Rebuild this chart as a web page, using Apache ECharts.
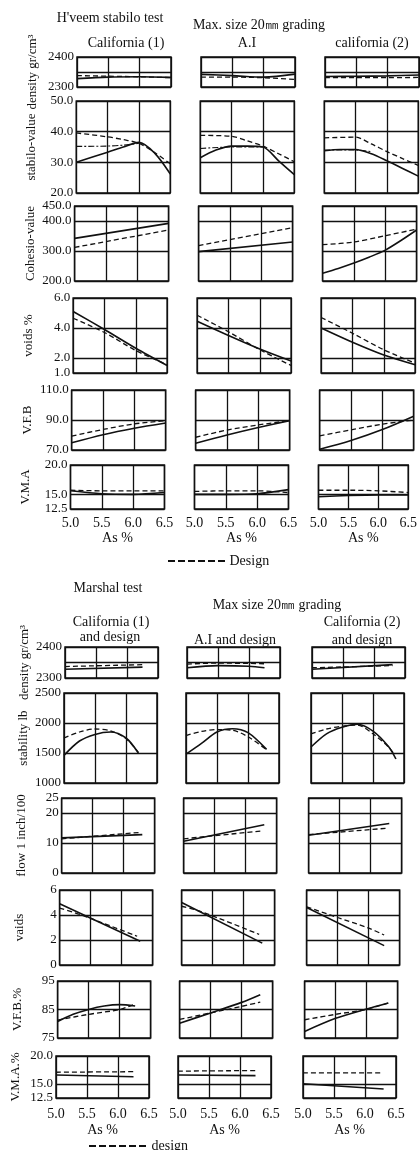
<!DOCTYPE html>
<html>
<head>
<meta charset="utf-8">
<script src="https://cdn.jsdelivr.net/npm/echarts@6/dist/echarts.min.js"></script>
<style>
html, body { margin: 0; background: #fff; }
#main { width: 420px; height: 1150px; }
</style>
</head>
<body>
<div id="main"></div>
<script>
// x axis: asphalt content, As %
var asTicks = [5.0, 5.5, 6.0, 6.5];

// y tick values (grid lines) and printed labels
var densityTicks = [2300, 2350, 2400];
var densityLabels = [2300, 2400];
var stabiloTicks = [20, 30, 40, 50];
var cohesioTicks = [200, 300, 400, 450];
var voidsTicks = [1, 2, 4, 6];
var hvVfbTicks = [70, 90, 110];
var vmaTicks = [12.5, 15, 20];
var stabilityTicks = [1000, 1500, 2000, 2500];
var flowTicks = [0, 10, 20, 25];
var vaidsTicks = [0, 2, 4, 6];
var msVfbTicks = [75, 85, 95];

// H'veem stabilo test, one list per column: California (1), A.I, california (2)
var hvDensityTest = [
    [[5, 2328], [5.5, 2333], [6, 2334], [6.5, 2332]],
    [[5, 2342], [5.5, 2338], [6, 2333], [6.5, 2343]],
    [[5, 2335], [5.5, 2336], [6, 2337], [6.5, 2340]]
];
var hvDensityDesign = [
    [[5, 2338], [5.5, 2336], [6, 2334], [6.5, 2331]],
    [[5, 2333], [5.5, 2333], [6, 2331], [6.5, 2325]],
    [[5, 2331], [5.5, 2331], [6, 2331], [6.5, 2332]]
];
var hvStabiloTest = [
    [[5, 30], [5.5, 33.3], [5.75, 35], [6, 36.5], [6.25, 33], [6.5, 26.2]],
    [[5, 31.5], [5.25, 34], [5.5, 35.3], [5.75, 35.3], [6, 35], [6.25, 30.5], [6.5, 26]],
    [[5, 33.8], [5.25, 34.2], [5.5, 34.2], [5.75, 32.8], [6, 30.5], [6.25, 28], [6.5, 25.5]]
];
var hvStabiloDesign = [
    [[5, 39.6], [5.5, 38.3], [5.75, 37.4], [6, 36.2], [6.25, 33.2], [6.5, 29.5]],
    [[5, 38.8], [5.5, 38.5], [5.75, 37], [6, 35.3], [6.25, 32.8], [6.5, 30.2]],
    [[5, 38], [5.5, 38.2], [5.75, 36], [6, 33.5], [6.25, 31.2], [6.5, 29]]
];
var hvStabiloDesign2 = [
    [[5, 35.2], [5.5, 35.3], [5.75, 35.6], [6, 36.2]],
    [[5, 34.5], [5.5, 35], [6, 35]],
    [[5, 34], [5.5, 34], [5.75, 33.5]]
];
var hvCohesioTest = [
    [[5, 342], [6.5, 392]],
    [[5, 298], [6.5, 330]],
    [[5, 226], [5.25, 242], [5.5, 260], [5.75, 280], [6, 303], [6.25, 335], [6.5, 370]]
];
var hvCohesioDesign = [
    [[5, 312], [6.5, 370]],
    [[5, 318], [6.5, 378]],
    [[5, 321], [5.5, 330], [6, 351], [6.5, 373]]
];
var hvVoidsTest = [
    [[5, 5.1], [5.5, 3.9], [6, 2.65], [6.5, 1.5]],
    [[5, 4.45], [5.5, 3.5], [6, 2.6], [6.5, 1.8]],
    [[5, 4.0], [5.5, 3.05], [6, 2.2], [6.5, 1.55]]
];
var hvVoidsDesign = [
    [[5, 4.65], [5.5, 3.7], [6, 2.5], [6.5, 1.55]],
    [[5, 4.85], [5.5, 3.75], [6, 2.55], [6.5, 1.5]],
    [[5, 4.7], [5.5, 3.65], [6, 2.55], [6.5, 1.65]]
];
var hvVfbTest = [
    [[5, 74.8], [5.5, 80.2], [6, 84.5], [6.5, 88]],
    [[5, 74.5], [5.5, 80], [6, 85], [6.5, 89.6]],
    [[5, 70.5], [5.5, 76.3], [6, 83.6], [6.5, 92.5]]
];
var hvVfbDesign = [
    [[5, 79.3], [5.5, 83.7], [6, 87.4], [6.5, 89.6]],
    [[5, 78.5], [5.5, 83.3], [6, 86.7], [6.5, 89.6]],
    [[5, 79.4], [5.5, 83.4], [6, 87.2], [6.5, 90]]
];
var hvVmaTest = [
    [[5, 15.6], [5.5, 15.1], [6, 15.0], [6.5, 15.3]],
    [[5, 15.0], [5.5, 15.0], [6, 15.1], [6.5, 15.8]],
    [[5, 14.6], [5.5, 14.8], [6, 14.9], [6.5, 14.9]]
];
var hvVmaDesign = [
    [[5, 15.7], [5.5, 15.6], [6, 15.6], [6.5, 15.6]],
    [[5, 15.5], [5.5, 15.6], [6, 15.6], [6.5, 15.3]],
    [[5, 15.7], [5.5, 15.7], [6, 15.6], [6.5, 15.3]]
];

// Marshal test, columns: California (1), A.I, California (2), each with design
var msDensityTest = [
    [[5, 2328], [6.25, 2335]],
    [[5, 2333], [5.5, 2340], [6, 2338], [6.25, 2333]],
    [[5, 2328], [6.3, 2343]]
];
var msDensityDesign = [
    [[5, 2337], [6.25, 2343]],
    [[5, 2345], [5.5, 2348], [6, 2347], [6.25, 2346]],
    [[5, 2333], [6.3, 2340]]
];
var msStabilityTest = [
    [[5, 1460], [5.25, 1700], [5.5, 1810], [5.75, 1850], [6, 1750], [6.2, 1500]],
    [[5, 1480], [5.25, 1660], [5.5, 1850], [5.75, 1905], [6, 1840], [6.3, 1560]],
    [[5, 1600], [5.25, 1820], [5.5, 1930], [5.75, 1980], [6, 1866], [6.25, 1608], [6.37, 1400]]
];
var msStabilityDesign = [
    [[5, 1750], [5.25, 1850], [5.5, 1900], [5.75, 1870], [6, 1740], [6.2, 1510]],
    [[5, 1790], [5.25, 1860], [5.5, 1890], [5.75, 1880], [6, 1770], [6.28, 1570]],
    [[5, 1820], [5.25, 1900], [5.5, 1945], [5.75, 1965], [6, 1820], [6.25, 1600], [6.33, 1500]]
];
var msFlowTest = [
    [[5, 11.7], [6.3, 12.8]],
    [[5, 10.6], [6.3, 16.1]],
    [[5, 12.6], [6.3, 16.5]]
];
var msFlowDesign = [
    [[5, 11.4], [6.25, 13.5]],
    [[5, 11.4], [6.25, 14.0]],
    [[5, 12.8], [6.25, 14.9]]
];
var msVaidsTest = [
    [[5, 4.9], [6.3, 1.9]],
    [[5, 5.0], [6.3, 1.75]],
    [[5, 4.6], [6.25, 1.55]]
];
var msVaidsDesign = [
    [[5, 4.55], [5.35, 4.0], [6.25, 2.3]],
    [[5, 4.7], [5.3, 4.3], [6.25, 2.45]],
    [[5, 4.65], [5.5, 3.8], [6, 2.95], [6.25, 2.4]]
];
var msVfbTest = [
    [[5, 80.8], [5.25, 83.3], [5.5, 85], [5.75, 86.2], [6, 86.7], [6.25, 86.2]],
    [[5, 80.2], [5.5, 83.8], [6, 87.5], [6.3, 90.2]],
    [[5, 77.3], [5.5, 81.9], [6, 85.2], [6.35, 87.3]]
];
var msVfbDesign = [
    [[5, 81.3], [5.5, 83.3], [6, 85], [6.25, 86.9]],
    [[5, 81.5], [5.5, 83.8], [6, 86.1], [6.3, 87.6]],
    [[5, 81.4], [5.5, 83.3], [6, 85.1], [6.35, 87.3]]
];
var msVmaTest = [
    [[5, 16.6], [6.25, 16.3]],
    [[5, 16.6], [6.25, 16.5]],
    [[5, 15.05], [6.3, 14.1]]
];
var msVmaDesign = [
    [[5, 17.1], [6.25, 17.2]],
    [[5, 17.3], [6.25, 17.4]],
    [[5, 17.0], [6.25, 17.0]]
];

var FONT = 'Liberation Serif';
var INK = '#111';
// dashed legend key, drawn as a path icon so no marker circle appears
var DASH_ICON = 'path://M0 0h7v2H0zM10 0h7v2h-7zM20 0h7v2h-7zM30 0h7v2h-7zM40 0h7v2h-7zM50 0h7v2h-7z';

var hveemRows = [
    {name: 'density gr/cm³', min: 2300, max: 2400, ticks: densityTicks, labels: densityLabels, digits: 0, test: hvDensityTest, design: hvDensityDesign},
    {name: 'stabilo-value', min: 20, max: 50, ticks: stabiloTicks, labels: stabiloTicks, digits: 1, test: hvStabiloTest, design: hvStabiloDesign, design2: hvStabiloDesign2},
    {name: 'Cohesio-value', min: 200, max: 450, ticks: cohesioTicks, labels: cohesioTicks, digits: 1, test: hvCohesioTest, design: hvCohesioDesign},
    {name: 'voids %', min: 1, max: 6, ticks: voidsTicks, labels: voidsTicks, digits: 1, test: hvVoidsTest, design: hvVoidsDesign},
    {name: 'V.F.B', min: 70, max: 110, ticks: hvVfbTicks, labels: hvVfbTicks, digits: 1, test: hvVfbTest, design: hvVfbDesign},
    {name: 'V.M.A', min: 12.5, max: 20, ticks: vmaTicks, labels: vmaTicks, digits: 1, test: hvVmaTest, design: hvVmaDesign}
];
var marshalRows = [
    {name: 'density gr/cm³', min: 2300, max: 2400, ticks: densityTicks, labels: densityLabels, digits: 0, test: msDensityTest, design: msDensityDesign},
    {name: 'stability lb', min: 1000, max: 2500, ticks: stabilityTicks, labels: stabilityTicks, digits: 0, test: msStabilityTest, design: msStabilityDesign},
    {name: 'flow 1 inch/100', min: 0, max: 25, ticks: flowTicks, labels: flowTicks, digits: 0, test: msFlowTest, design: msFlowDesign},
    {name: 'vaids', min: 0, max: 6, ticks: vaidsTicks, labels: vaidsTicks, digits: 0, test: msVaidsTest, design: msVaidsDesign},
    {name: 'V.F.B.%', min: 75, max: 95, ticks: msVfbTicks, labels: msVfbTicks, digits: 0, test: msVfbTest, design: msVfbDesign},
    {name: 'V.M.A.%', min: 12.5, max: 20, ticks: vmaTicks, labels: vmaTicks, digits: 1, test: msVmaTest, design: msVmaDesign}
];

var sections = [
    {rows: hveemRows, tops: [57, 101, 206, 298, 390, 465], heights: [30, 92, 75, 75, 60, 44],
     lefts: [77, 201, 325], width: 94, skew: 0.016, designName: 'Design', nameGap: 38, labelMargin: 7, xNameGap: 22},
    {rows: marshalRows, tops: [647, 693, 798, 890, 981, 1056], heights: [31, 90, 75, 75, 57, 42],
     lefts: [65, 187, 312], width: 93, skew: 0.022, designName: 'design', nameGap: 34, labelMargin: 9, xNameGap: 25}
];

var grid = [], xAxis = [], yAxis = [], series = [];

sections.forEach(function (sec) {
    sec.rows.forEach(function (row, r) {
        var top = sec.tops[r];
        var shift = (top - sec.tops[0]) * sec.skew;
        var last = r === sec.rows.length - 1;
        for (var c = 0; c < 3; c++) {
            var gi = grid.length;
            grid.push({
                left: sec.lefts[c] - shift, top: top, width: sec.width, height: sec.heights[r],
                show: true, borderColor: INK, borderWidth: 1.5, backgroundColor: 'transparent'
            });
            xAxis.push({
                type: 'value', gridIndex: gi, min: 5, max: 6.5,
                axisLine: {show: false},
                axisTick: {show: false, customValues: asTicks},
                axisLabel: {
                    show: last, customValues: asTicks, margin: sec.labelMargin,
                    color: INK, fontFamily: FONT, fontSize: 14,
                    formatter: function (v) { return v.toFixed(1); }
                },
                splitLine: {show: true, lineStyle: {color: INK, width: 1.3}},
                name: last ? 'As %' : '', nameLocation: 'middle', nameGap: sec.xNameGap,
                nameTextStyle: {color: INK, fontFamily: FONT, fontSize: 14}
            });
            yAxis.push({
                type: 'value', gridIndex: gi, min: row.min, max: row.max,
                axisLine: {show: false},
                axisTick: {show: false, customValues: row.ticks},
                axisLabel: {
                    show: c === 0, customValues: row.labels, margin: 3,
                    color: INK, fontFamily: FONT, fontSize: 13,
                    formatter: (function (d) { return function (v) { return v.toFixed(d); }; })(row.digits)
                },
                splitLine: {show: true, lineStyle: {color: INK, width: 1.3}},
                name: c === 0 ? row.name : '', nameLocation: 'middle', nameRotate: 90, nameGap: sec.nameGap,
                nameTextStyle: {color: INK, fontFamily: FONT, fontSize: 13}
            });
            series.push({
                type: 'line', name: 'test', xAxisIndex: gi, yAxisIndex: gi,
                data: row.test[c], symbol: 'none', smooth: 0.3, silent: true,
                lineStyle: {color: INK, width: 1.6}
            });
            series.push({
                type: 'line', name: sec.designName, xAxisIndex: gi, yAxisIndex: gi,
                data: row.design[c], symbol: 'none', smooth: 0.3, silent: true,
                itemStyle: {color: INK},
                lineStyle: {color: INK, width: 1.3, type: [5, 3]}
            });
            if (row.design2) {
                series.push({
                    type: 'line', name: 'design 2', xAxisIndex: gi, yAxisIndex: gi,
                    data: row.design2[c], symbol: 'none', smooth: 0.3, silent: true,
                    lineStyle: {color: INK, width: 1.1, type: [6, 2, 2, 2]}
                });
            }
        }
    });
});

function txt(text, x, y, size) {
    return {
        type: 'text', x: x, y: y, silent: true,
        style: {text: text, fill: INK, font: (size || 14) + 'px "' + FONT + '"', textAlign: 'center', textVerticalAlign: 'middle'}
    };
}

var myChart = echarts.init(document.getElementById('main'));
myChart.setOption({
    animation: false,
    backgroundColor: '#fff',
    grid: grid,
    xAxis: xAxis,
    yAxis: yAxis,
    series: series,
    legend: [
        {data: [{name: 'Design', icon: DASH_ICON}], left: 163, top: 549, itemWidth: 60, itemHeight: 2, itemGap: 4,
         selectedMode: false, textStyle: {color: INK, fontFamily: FONT, fontSize: 14, padding: [0, 0, 0, -2]}},
        {data: [{name: 'design', icon: DASH_ICON}], left: 84, top: 1134, itemWidth: 62, itemHeight: 2, itemGap: 4,
         selectedMode: false, textStyle: {color: INK, fontFamily: FONT, fontSize: 14, padding: [0, 0, 0, -2]}}
    ],
    graphic: [
        txt("H'veem stabilo test", 110, 18),
        txt('Max. size 20㎜ grading', 259, 25),
        txt('California (1)', 126, 43),
        txt('A.I', 247, 43),
        txt('california (2)', 372, 43),
        txt('Marshal test', 108, 588),
        txt('Max size 20㎜ grading', 277, 605),
        txt('California (1)', 111, 622),
        txt('and design', 110, 637),
        txt('A.I and design', 235, 640),
        txt('California (2)', 362, 622),
        txt('and design', 362, 640)
    ]
});
</script>
</body>
</html>
